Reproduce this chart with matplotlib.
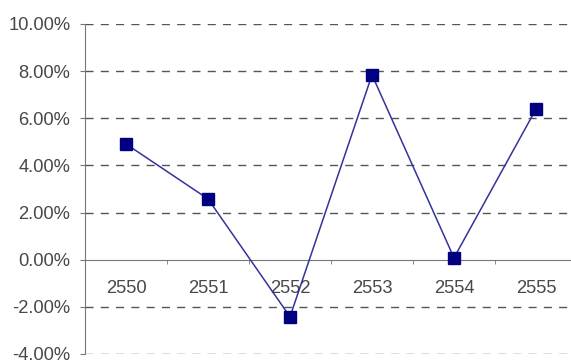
import numpy as np
import matplotlib.pyplot as plt
from matplotlib.ticker import FuncFormatter, FixedLocator

years = ['2550', '2551', '2552', '2553', '2554', '2555']
growth = [4.91, 2.58, -2.42, 7.84, 0.08, 6.39]
yticks = [-4, -2, 0, 2, 4, 6, 8, 10]

plt.rcParams['font.family'] = ['Liberation Sans', 'DejaVu Sans']

fig = plt.figure(figsize=(5.71, 3.61), dpi=100)
ax = fig.add_axes([85 / 571, 7 / 361, 486 / 571, 330 / 361])

x = np.arange(len(years))
ax.plot(x, growth, color='#333399', lw=1.1, zorder=3)
ax.plot(x, growth, ls='none', marker='s', ms=8.6, color='#000080', zorder=4)

ax.set_ylim(-4, 10)
ax.set_xlim(-0.5, -0.5 + 486 / 82)
ax.set_yticks(yticks)
ax.yaxis.set_major_formatter(FuncFormatter(lambda v, p: f'{v:.2f}%'))

# dashed grid, solid zero line handled by the bottom spine
for v in yticks:
    if v != 0:
        ax.axhline(v, color='#555555', lw=1, dashes=(5.8, 5.2), zorder=1)

for s in ['top', 'right']:
    ax.spines[s].set_visible(False)
ax.spines['left'].set_color('#777777')
ax.spines['bottom'].set_color('#777777')
ax.spines['bottom'].set_position(('data', 0))

ax.set_xticks(x)
ax.set_xticklabels(years)
ax.xaxis.set_minor_locator(FixedLocator(np.arange(0.5, 5.5, 1)))
ax.tick_params(axis='x', which='major', length=0, pad=14.5,
               labelsize=13.2, labelcolor='#484848')
ax.tick_params(axis='x', which='minor', length=3, color='#777777', direction='out')
ax.tick_params(axis='y', length=3.5, color='#777777', pad=7,
               labelsize=13.2, labelcolor='#484848')

fig.savefig('out.png', dpi=100)
